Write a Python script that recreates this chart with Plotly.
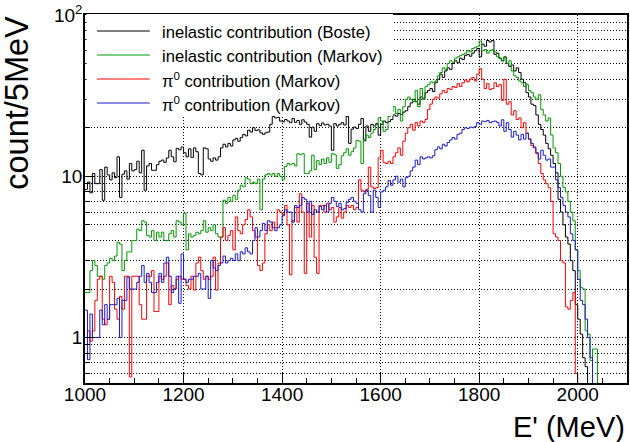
import plotly.graph_objects as go

# ---------------- data (5 MeV bins, low edges from 1000 to 2095 MeV) ----------------
BIN_START = 1000
BIN_WIDTH = 5

boste_inelastic = [
    8.3, 9.2, 7.9, 10.4, 9.0, 9.0, 11.0, 7.1, 11.4, 10.2,
    9.5, 10.5, 9.8, 13.2, 7.4, 10.3, 10.8, 9.6, 12.0, 10.8,
    11.0, 12.4, 10.5, 14.5, 8.2, 11.6, 12.0, 10.9, 10.9, 11.8,
    12.4, 12.6, 12.2, 13.0, 14.5, 13.2, 12.3, 14.9, 14.6, 15.2,
    14.0, 13.2, 14.8, 13.1, 15.0, 14.2, 10.4, 10.2, 15.0, 14.8,
    12.8, 12.4, 13.0, 12.6, 13.2, 15.0, 15.8, 15.2, 16.0, 15.4,
    16.8, 17.2, 16.5, 17.4, 18.2, 17.8, 19.3, 18.8, 20.0, 19.2,
    19.4, 18.6, 18.2, 18.6, 18.8, 21.0, 23.5, 23.0, 23.2, 22.0,
    21.8, 22.5, 22.0, 21.5, 22.8, 21.6, 22.2, 21.0, 22.4, 21.7,
    21.0, 17.5, 20.2, 19.0, 21.2, 20.6, 21.4, 20.8, 21.0, 20.5,
    14.5, 21.2, 20.5, 21.0, 21.5, 20.8, 23.5, 16.0, 19.6, 20.2,
    19.8, 21.0, 22.8, 16.6, 20.5, 19.0, 21.0, 20.5, 21.2, 18.0,
    21.0, 22.0, 21.5, 21.8, 22.5, 24.0, 23.6, 24.5, 24.2, 25.0,
    25.5, 27.0, 28.5, 30.0, 29.0, 28.0, 31.0, 30.5, 33.0, 34.0,
    35.0, 33.5, 38.0, 40.0, 43.0, 41.0, 45.0, 47.0, 46.0, 50.0,
    52.0, 50.5, 54.0, 53.0, 56.0, 57.0, 55.5, 58.0, 60.0, 62.0,
    55.0, 66.0, 64.0, 69.5, 68.0, 69.5, 57.0, 58.0, 54.0, 52.0,
    55.0, 50.0, 48.0, 49.0, 45.0, 47.0, 44.0, 40.0, 38.0, 33.0,
    31.0, 28.0, 27.5, 24.0, 21.0, 19.5, 18.0, 16.0, 14.8, 13.5,
    12.0, 10.5, 7.2, 6.0, 5.0, 4.2, 3.8, 3.0, 2.6, 1.6,
    1.3, 1.05, 0.75, 0.66, 0, 0, 0, 0, 0, 0,
    0, 0, 0, 0, 0, 0, 0, 0, 0, 0,
]

markov_inelastic = [
    1.9, 1.9, 2.6, 3.0, 2.8, 2.4, 2.4, 2.3, 2.8, 2.9,
    3.1, 3.0, 3.2, 3.9, 3.8, 2.6, 3.0, 3.4, 3.4, 4.0,
    4.0, 4.7, 4.6, 5.3, 5.2, 4.3, 4.2, 4.6, 4.0, 4.5,
    4.2, 4.5, 4.0, 4.0, 4.4, 4.6, 4.2, 5.3, 5.2, 5.0,
    5.9, 3.5, 4.4, 4.2, 4.3, 4.5, 4.4, 4.6, 5.3, 4.5,
    4.8, 4.6, 5.0, 4.4, 4.2, 4.2, 7.1, 6.8, 7.4, 7.0,
    7.6, 7.2, 8.2, 8.8, 8.6, 9.8, 9.6, 9.0, 9.2, 9.0,
    9.6, 6.2, 9.6, 10.2, 10.4, 10.2, 10.4, 10.0, 10.4, 10.0,
    9.5, 11.5, 12.0, 11.8, 12.0, 11.6, 13.8, 13.6, 13.8, 10.4,
    10.4, 10.8, 13.5, 11.0, 12.5, 11.8, 12.8, 12.0, 13.0, 12.2,
    13.8, 13.6, 11.2, 11.8, 13.4, 14.0, 14.8, 13.5, 14.2, 15.0,
    16.7, 16.5, 12.0, 17.0, 18.0, 17.4, 18.5, 19.5, 21.0, 23.0,
    22.0, 19.0, 19.5, 23.5, 25.0, 27.0, 24.5, 26.0, 22.0, 27.0,
    30.0, 31.0, 30.0, 29.0, 34.0, 27.0, 35.0, 30.0, 36.0, 37.0,
    38.5, 38.0, 39.0, 42.0, 44.0, 47.0, 46.0, 50.0, 52.0, 51.0,
    54.0, 55.0, 56.0, 57.0, 58.0, 60.0, 59.0, 62.0, 63.0, 64.0,
    69.0, 60.0, 61.0, 58.0, 60.0, 61.0, 59.0, 55.0, 54.0, 52.0,
    55.0, 50.0, 52.0, 45.0, 42.0, 41.0, 39.0, 38.0, 36.0, 37.0,
    34.0, 33.0, 31.0, 30.0, 32.0, 26.0, 24.0, 22.0, 23.0, 18.0,
    15.0, 14.0, 12.0, 10.0, 8.5, 8.0, 7.0, 6.0, 5.3, 3.5,
    2.6, 2.05, 2.0, 1.1, 1.05, 0.72, 0.85, 0.85, 0, 0,
    0, 0, 0, 0, 0, 0, 0, 0, 0, 0,
]

markov_pi0_a = [
    1.0, 1.1, 0.95, 1.1, 1.7, 2.3, 2.4, 1.3, 1.2, 1.3,
    2.4, 2.2, 1.5, 1.3, 1.8, 1.5, 2.4, 2.4, 0.57, 2.4,
    2.4, 2.4, 1.6, 1.3, 1.3, 2.4, 2.4, 2.6, 1.45, 1.45,
    2.4, 2.3, 2.4, 2.9, 1.6, 2.1, 2.0, 2.3, 2.4, 2.3,
    2.3, 2.1, 2.0, 2.4, 1.97, 2.9, 3.15, 2.6, 2.3, 2.4,
    2.3, 2.4, 3.15, 1.97, 2.9, 4.2, 4.8, 4.0, 4.3, 4.6,
    3.5, 5.6, 4.6, 4.4, 5.0, 5.4, 6.2, 5.6, 4.6, 4.2,
    2.8, 2.6, 2.9, 4.4, 5.0, 4.6, 5.2, 4.8, 6.2, 6.0,
    5.8, 6.6, 5.0, 2.45, 5.3, 6.4, 5.2, 7.8, 6.0, 2.5,
    6.8, 4.2, 6.6, 3.15, 2.5, 6.6, 6.6, 6.0, 6.8, 6.2,
    6.4, 5.2, 5.6, 6.4, 5.5, 6.0, 6.6, 6.4, 6.6, 6.2,
    6.4, 9.5, 8.2, 8.0, 8.3, 11.4, 8.6, 8.4, 8.5, 13.0,
    14.5, 12.2, 12.0, 12.4, 12.0, 13.2, 14.0, 15.0, 13.5, 16.5,
    18.5, 20.0, 21.0, 19.3, 21.5, 20.5, 22.0, 21.5, 22.5, 26.0,
    28.0, 30.0, 31.0, 30.5, 32.5, 34.0, 33.0, 35.0, 34.5, 36.0,
    35.5, 37.5, 36.0, 38.0, 39.5, 38.5, 40.0, 41.0, 39.0, 43.0,
    46.5, 40.0, 35.0, 37.5, 34.5, 35.0, 38.0, 36.0, 37.0, 29.6,
    40.0, 28.0, 29.0, 24.0, 25.5, 22.5, 23.0, 20.0, 21.5, 18.5,
    17.0, 15.5, 15.0, 13.8, 12.0, 10.4, 9.5, 9.0, 8.5, 7.0,
    4.4, 4.2, 4.0, 3.0, 2.9, 1.55, 1.5, 1.7, 1.9, 0.6,
    0, 0, 0, 0, 0, 0, 0, 0, 0, 0,
    0, 0, 0, 0, 0, 0, 0, 0, 0, 0,
]

markov_pi0_b = [
    1.48, 0.73, 1.4, 1.0, 1.0, 1.0, 1.48, 1.2, 1.6, 1.3,
    1.6, 1.6, 1.6, 1.75, 1.0, 1.7, 1.7, 2.37, 2.0, 2.0,
    2.0, 2.2, 2.4, 2.8, 2.2, 2.5, 2.2, 1.9, 1.9, 2.2,
    2.5, 2.2, 2.9, 3.15, 2.4, 1.9, 2.0, 2.4, 1.63, 3.3,
    2.3, 2.2, 2.3, 2.3, 2.4, 2.4, 2.5, 2.0, 2.0, 2.4,
    1.75, 3.0, 2.7, 2.6, 2.8, 2.9, 3.2, 2.9, 3.0, 3.1,
    3.0, 3.3, 3.0, 3.4, 3.3, 3.6, 3.4, 3.3, 4.0, 4.8,
    4.2, 4.6, 5.1, 4.6, 5.3, 5.2, 4.8, 4.6, 4.8, 5.0,
    5.7, 6.2, 6.0, 6.0, 5.2, 6.6, 6.4, 6.6, 7.4, 7.2,
    6.0, 7.0, 5.8, 6.2, 6.0, 6.5, 6.2, 6.6, 6.0, 6.8,
    7.4, 7.0, 6.5, 6.8, 6.2, 6.3, 6.9, 7.2, 7.4, 7.0,
    6.8, 6.2, 6.0, 7.8, 8.2, 7.6, 6.0, 8.2, 7.4, 6.4,
    8.0, 8.2, 8.6, 9.4, 8.8, 9.5, 10.0, 9.2, 9.6, 8.6,
    9.8, 10.0, 10.8, 11.4, 12.6, 11.8, 13.2, 12.8, 13.0, 13.2,
    13.0, 13.4, 14.6, 15.2, 14.8, 15.8, 15.4, 16.2, 16.8, 17.4,
    17.0, 18.2, 18.5, 19.5, 20.0, 19.8, 20.2, 20.0, 20.4, 21.5,
    21.0, 22.0, 21.8, 22.2, 21.5, 21.8, 22.0, 21.6, 20.5, 22.4,
    19.0, 21.5, 19.5, 17.5, 19.0, 18.0, 16.8, 18.2, 17.0, 18.5,
    17.0, 16.0, 15.2, 14.0, 12.8, 14.5, 13.5, 12.6, 12.8, 11.4,
    11.4, 9.5, 8.5, 7.4, 6.6, 6.0, 5.6, 4.4, 4.0, 3.5,
    2.3, 1.7, 1.6, 1.3, 1.0, 0.75, 0, 0, 0, 0,
    0, 0, 0, 0, 0, 0, 0, 0, 0, 0,
]

series_names = [
    "inelastic contribution (Boste)",
    "inelastic contribution (Markov)",
    "\u03c0<sup>0</sup> contribution (Markov)",
    "\u03c0<sup>0</sup> contribution (Markov)",
]
series_values = [boste_inelastic, markov_inelastic, markov_pi0_a, markov_pi0_b]
series_colors = ["#000000", "#009a00", "#ff0000", "#1a1ad0"]

x_tick_values = [1000, 1200, 1400, 1600, 1800, 2000]
y_tick_values = [1, 10, 100]
y_tick_labels = ["1", "10", "10<sup>2</sup>"]
y_minor_values = [0.6, 0.7, 0.8, 0.9, 2, 3, 4, 5, 6, 7, 8, 9,
                  20, 30, 40, 50, 60, 70, 80, 90]

YMIN_LOG = -0.2817
YMAX_LOG = 2.0
FLOOR = 1e-3  # empty bins drop out of the log-scale frame, as in ROOT

FONT = "Liberation Sans, Arial, Helvetica, sans-serif"

# plot-area geometry in pixels (used only to place the legend box)
W, H = 630, 442
ML, MR, MT, MB = 85, 1, 15, 59
PW, PH = W - ML - MR, H - MT - MB


def px_x(p):
    return (p - ML) / PW


def px_y(p):
    return (H - MB - p) / PH


fig = go.Figure()
for i, (name, vals, col) in enumerate(zip(series_names, series_values, series_colors)):
    edges = [BIN_START + BIN_WIDTH * k for k in range(len(vals) + 1)]
    yy = [v if v > 0 else FLOOR for v in vals]
    yy = yy + [yy[-1]]
    fig.add_trace(go.Scatter(
        x=edges, y=yy, mode="lines", name=name,
        line=dict(color=col, width=1, shape="hv"),
        hoverinfo="skip", showlegend=False,
    ))

# legend box (ROOT TLegend style: white fill, no border)
shapes = [dict(
    type="rect", xref="paper", yref="paper",
    x0=px_x(86.5), x1=px_x(394), y0=px_y(116), y1=px_y(14),
    fillcolor="white", line=dict(width=0), layer="above",
)]
annotations = []
for i, (name, col) in enumerate(zip(series_names, series_colors)):
    yc = 31 + 24 * i
    shapes.append(dict(
        type="line", xref="paper", yref="paper",
        x0=px_x(97), x1=px_x(150), y0=px_y(yc), y1=px_y(yc),
        line=dict(color=col, width=1), layer="above",
    ))
    annotations.append(dict(
        text=name, xref="paper", yref="paper", x=px_x(160), y=px_y(yc + 1),
        xanchor="left", yanchor="middle", showarrow=False,
        font=dict(family=FONT, size=16.6, color="black"),
    ))

annotations += [
    dict(text="E' (MeV)", xref="paper", yref="paper", x=1.0, y=-0.12,
         xanchor="right", yanchor="middle", showarrow=False,
         font=dict(family=FONT, size=29, color="black")),
    dict(text="count/5MeV", xref="paper", yref="paper", x=-0.126, y=px_y(14),
         xanchor="center", yanchor="top", textangle=-90, showarrow=False,
         font=dict(family=FONT, size=32.5, color="black")),
]

grid_kw = dict(gridcolor="#000000", gridwidth=1, griddash="1px,2px")

fig.update_layout(
    width=W, height=H,
    margin=dict(l=ML, r=MR, t=MT, b=MB),
    paper_bgcolor="white", plot_bgcolor="white",
    font=dict(family=FONT, color="black", size=19),
    showlegend=False,
    xaxis=dict(
        range=[1000, 2100], showline=True, mirror=True, linecolor="black", linewidth=1.5,
        tickmode="array", tickvals=x_tick_values, ticks="inside", ticklen=10,
        tickcolor="black", tickwidth=1,
        showgrid=True, **grid_kw, zeroline=False,
        tickfont=dict(size=19), ticklabelstandoff=-7,
        minor=dict(dtick=50, tick0=1000, ticks="inside", ticklen=5, tickcolor="black",
                   showgrid=False),
    ),
    yaxis=dict(
        type="log", range=[YMIN_LOG, YMAX_LOG], showline=True, mirror=True,
        linecolor="black", linewidth=1.5,
        tickmode="array", tickvals=y_tick_values, ticktext=y_tick_labels,
        ticks="inside", ticklen=10, tickcolor="black", tickwidth=1,
        showgrid=True, **grid_kw, zeroline=False,
        tickfont=dict(size=19), ticklabelstandoff=-3,
        minor=dict(tickmode="array", tickvals=y_minor_values, ticks="inside", ticklen=5,
                   tickcolor="black", showgrid=True, **grid_kw),
    ),
    shapes=shapes,
    annotations=annotations,
)

fig.write_html("out.html", config={"displayModeBar": False},
               post_script="document.body.style.margin='0px';")
